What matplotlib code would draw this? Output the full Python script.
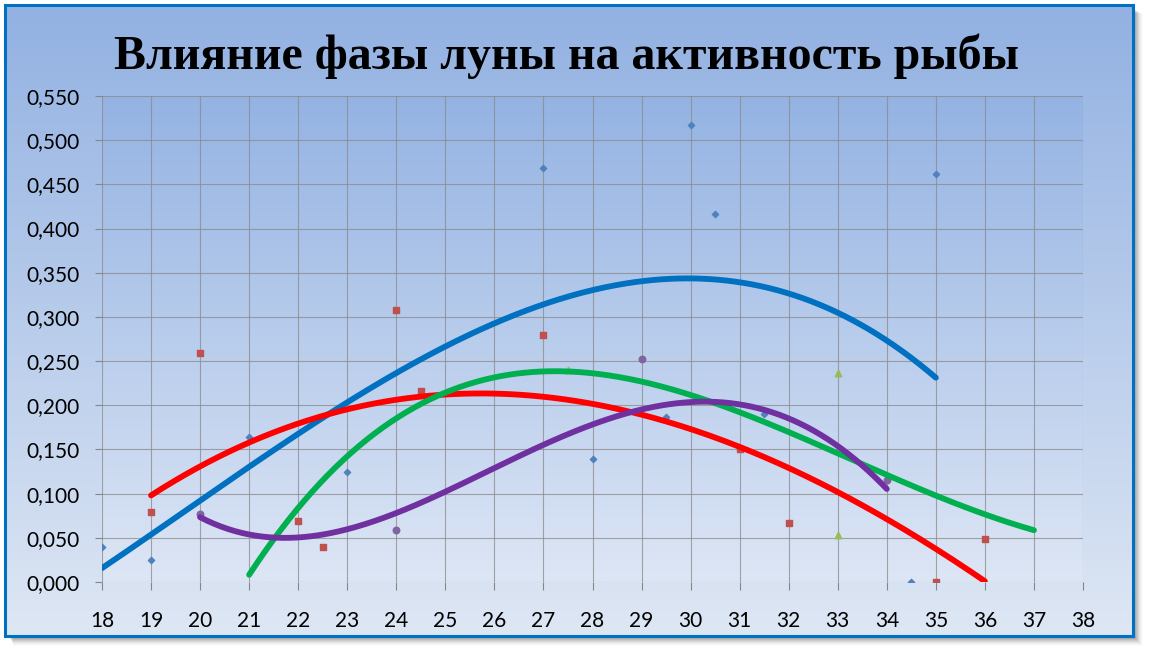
import matplotlib.pyplot as plt
import numpy as np
from matplotlib.patches import Rectangle
from matplotlib.ticker import FuncFormatter, MultipleLocator

# scatter points
blue_x = [18, 19, 21, 23, 27, 28, 29.5, 30, 30.5, 31.5, 34.5, 35]
blue_y = [0.040, 0.025, 0.164, 0.124, 0.469, 0.139, 0.187, 0.517, 0.416, 0.190, 0.000, 0.462]

red_x = [19, 20, 22, 22.5, 24, 24.5, 27, 31, 32, 35, 36]
red_y = [0.079, 0.259, 0.069, 0.040, 0.308, 0.216, 0.279, 0.151, 0.067, 0.000, 0.049]

green_x = [27.5, 33, 33]
green_y = [0.240, 0.236, 0.053]

purple_x = [20, 24, 29, 34]
purple_y = [0.077, 0.059, 0.252, 0.115]

# trend curves
blue_tx = list(range(18, 36))
blue_ty = [0.017, 0.052, 0.092, 0.130, 0.168, 0.204, 0.237, 0.266, 0.292, 0.315,
           0.331, 0.340, 0.343, 0.339, 0.327, 0.305, 0.272, 0.232]

red_tx = list(range(19, 37))
red_ty = [0.100, 0.129, 0.157, 0.179, 0.195, 0.206, 0.213, 0.214, 0.211, 0.202,
          0.189, 0.172, 0.152, 0.129, 0.103, 0.071, 0.036, 0.002]

green_tx = list(range(21, 38))
green_ty = [0.010, 0.081, 0.141, 0.186, 0.217, 0.232, 0.238, 0.236, 0.226, 0.210,
            0.192, 0.170, 0.148, 0.121, 0.097, 0.076, 0.059]

purple_tx = list(range(20, 35))
purple_ty = [0.072, 0.055, 0.052, 0.060, 0.078, 0.099, 0.127, 0.157, 0.181, 0.195,
             0.203, 0.202, 0.185, 0.151, 0.107]

title = "Влияние фазы луны на активность рыбы"

W, H = 1150, 654
fig = plt.figure(figsize=(W / 100, H / 100), dpi=100)
fig.patch.set_facecolor("white")


def fx(px):
    return px / W


def fy(py):
    return 1 - py / H


grad = np.linspace(0, 1, 256).reshape(-1, 1)
top_c = np.array([146, 177, 226]) / 255
bot_c = np.array([222, 231, 244]) / 255
grad_img = (top_c + (bot_c - top_c) * grad[..., None]).reshape(256, 1, 3)

# soft shadow right and below the frame
for i, a in enumerate([0.10, 0.09, 0.08, 0.07, 0.06, 0.05, 0.04, 0.03, 0.02, 0.015]):
    x0, y0 = 9 + i * 0.5, 9 + i * 0.5
    x1, y1 = 1134 + i, 637 + i
    fig.patches.append(Rectangle((fx(x0), fy(y1)), fx(x1) - fx(x0), fy(y0) - fy(y1),
                                 transform=fig.transFigure, facecolor="black",
                                 edgecolor="none", alpha=a, zorder=-5))

# frame with gradient fill
frame = fig.add_axes([fx(5), fy(636), fx(1128), fy(5) - fy(636)])
frame.imshow(grad_img, aspect="auto", extent=[0, 1, 0, 1], zorder=0)
frame.set_xlim(0, 1)
frame.set_ylim(0, 1)
frame.set_xticks([])
frame.set_yticks([])
for s in frame.spines.values():
    s.set_color("#0070C0")
    s.set_linewidth(2.2)

ax = fig.add_axes([fx(102), fy(582), fx(1083) - fx(102), fy(96) - fy(582)])
ax.patch.set_alpha(0)
pgrad_top = np.array([148, 179, 227]) / 255
pgrad_bot = np.array([221, 230, 245]) / 255
pimg = (pgrad_top + (pgrad_bot - pgrad_top) * grad[..., None]).reshape(256, 1, 3)
ax.imshow(pimg, aspect="auto", extent=[18, 38, 0, 0.55], zorder=0)

line_kw = dict(lw=4.2, solid_capstyle="round", zorder=4)
for tx, ty, deg, col in [
    (blue_tx, blue_ty, 3, "#0070C0"),
    (red_tx, red_ty, 3, "#FF0000"),
    (green_tx, green_ty, 4, "#00B050"),
    (purple_tx, purple_ty, 4, "#7030A0"),
]:
    coef = np.polyfit(tx, ty, deg)
    xs = np.linspace(tx[0], tx[-1], 300)
    ax.plot(xs, np.polyval(coef, xs), color=col, **line_kw)

ax.scatter(blue_x, blue_y, marker="D", s=10, color="#4F81BD", zorder=3)
ax.scatter(red_x, red_y, marker="s", s=20, color="#C0504D", zorder=3)
ax.scatter(green_x, green_y, marker="^", s=22, color="#9BBB59", zorder=3)
ax.scatter(purple_x, purple_y, marker="o", s=22, color="#8064A2", zorder=3)

ax.set_xlim(18, 38)
ax.set_ylim(0, 0.55)
ax.xaxis.set_major_locator(MultipleLocator(1))
ax.yaxis.set_major_locator(MultipleLocator(0.05))
ax.yaxis.set_major_formatter(FuncFormatter(lambda v, p: f"{v:.3f}".replace(".", ",")))
ax.grid(True, color="#8a8a8a", lw=0.8, alpha=0.75, zorder=1)
ax.set_axisbelow(True)
for s in ax.spines.values():
    s.set_visible(False)
ax.tick_params(axis="y", length=5, width=0.8, color="#868686", pad=11,
               labelsize=15, labelcolor="black")
ax.tick_params(axis="x", length=6, width=0.8, color="#868686", pad=15,
               labelsize=15, labelcolor="black")
for lab in ax.get_xticklabels() + ax.get_yticklabels():
    lab.set_family(["Lato", "DejaVu Sans"])

fig.text(fx(567), fy(56), title, ha="center", va="center", fontsize=34.5,
         fontweight="bold", family=["Liberation Serif", "DejaVu Serif"], color="black")

fig.savefig("out.png", dpi=100, facecolor="white")
